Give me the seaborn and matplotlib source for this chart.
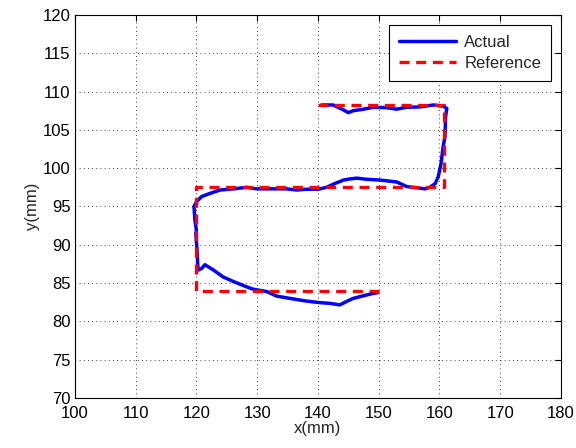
import numpy as np
import pandas as pd
import matplotlib
matplotlib.use('Agg')
import matplotlib.pyplot as plt
import seaborn as sns

sns.set_style('white')
plt.rcParams['font.family'] = ['Liberation Sans', 'DejaVu Sans']

# reference path (dashed)
ref_x = [150, 120, 120, 160.7, 160.7, 140]
ref_y = [84, 84, 97.6, 97.6, 108.2, 108.2]

# actual trajectory
act_x = [149.8, 148.8, 147.5, 145.8, 144.7, 143.6, 142.0, 140.3, 138.1, 135.4,
         133.2, 131.55, 129.35, 128.3, 126.1, 124.4, 122.8, 121.4, 120.85, 120.3,
         120.2, 120.1, 119.9, 120.0, 119.75, 119.6, 120.0, 120.85, 122.2, 123.9,
         126.1, 128.3, 129.9, 132.6, 134.85, 136.5, 138.1, 140.05, 141.4, 142.8,
         144.2, 145.3, 146.4, 148.0, 150.2, 152.95, 154.6, 156.2, 157.6, 158.4,
         159.3, 159.8, 160.25, 160.6, 160.9, 161.0, 161.2, 160.6, 159.0, 156.8,
         154.6, 152.95, 151.3, 149.1, 147.5, 145.8, 145.0, 144.2, 142.5, 140.6]
act_y = [83.75, 83.6, 83.35, 83.0, 82.6, 82.15, 82.35, 82.45, 82.65, 83.0,
         83.3, 83.9, 84.2, 84.5, 85.2, 85.8, 86.7, 87.4, 86.9, 86.7,
         87.6, 89.3, 91.5, 91.9, 93.2, 95.0, 95.6, 96.3, 96.7, 97.15,
         97.3, 97.5, 97.3, 97.3, 97.3, 97.15, 97.25, 97.25, 97.5, 98.0,
         98.45, 98.6, 98.7, 98.55, 98.45, 98.2, 97.6, 97.45, 97.3, 97.5,
         98.0, 98.9, 100.6, 102.8, 104.1, 106.7, 107.8, 108.1, 108.25, 108.0,
         107.95, 107.7, 107.9, 107.95, 107.7, 107.5, 107.25, 107.6, 108.25, 108.25]

fig = plt.figure(figsize=(5.76, 4.48), dpi=100)
ax = fig.add_axes([0.130, 0.1116, 0.844, 0.855])

sns.lineplot(x=act_x, y=act_y, sort=False, estimator=None, color='#0000ff',
             linewidth=2.5, label='Actual', ax=ax)
sns.lineplot(x=ref_x, y=ref_y, sort=False, estimator=None, color='#ff0000',
             linewidth=2.4, linestyle=(0, (3, 2)), label='Reference', ax=ax)

ax.set_xlim(100, 180)
ax.set_ylim(70, 120)
ax.set_xticks(np.arange(100, 181, 10))
ax.set_yticks(np.arange(70, 121, 5))
ax.grid(True, color='black', linestyle=(0, (1, 4)), linewidth=0.6)
ax.tick_params(direction='in', length=4, width=0.8, top=True, right=True,
               labelsize=12, colors='black')
ax.tick_params(axis='x', pad=6)
ax.tick_params(axis='y', pad=3)
for s in ax.spines.values():
    s.set_color('black')
    s.set_linewidth(0.8)
ax.set_xlabel('x(mm)', fontsize=12, labelpad=0)
ax.set_ylabel('y(mm)', fontsize=12, labelpad=2)

leg = ax.legend(loc='upper right', fontsize=12, frameon=True, fancybox=False,
                handlelength=3.4, handletextpad=0.5, borderaxespad=0.6,
                borderpad=0.6, labelspacing=0.35)
leg.get_frame().set_edgecolor('black')
leg.get_frame().set_linewidth(0.8)
leg.get_frame().set_alpha(1)

fig.savefig('out.png', dpi=100)
